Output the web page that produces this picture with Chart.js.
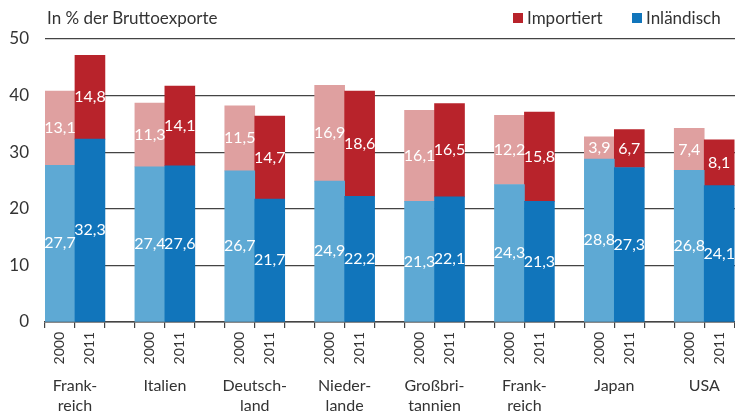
<!DOCTYPE html>
<html>
<head>
<meta charset="utf-8">
<script src="https://cdn.jsdelivr.net/npm/chart.js@4"></script>
<style>
  html, body { margin: 0; padding: 0; background: #fff; overflow: hidden; }
  #wrap { position: relative; width: 770px; height: 412px; }
  .txt { position: absolute; font-family: Lato, sans-serif; font-size: 17px; color: #333; white-space: nowrap; }
  .sw { position: absolute; width: 10px; height: 10px; }
</style>
</head>
<body>
<div id="wrap">
  <canvas id="chart" width="770" height="412"></canvas>
  <div class="txt" style="left:47px; top:7px;">In % der Bruttoexporte</div>
  <div class="sw" style="left:513px; top:13px; background:#b8232b;"></div>
  <div class="txt" style="left:527px; top:7px;">Importiert</div>
  <div class="sw" style="left:632px; top:13px; background:#1175bb;"></div>
  <div class="txt" style="left:646px; top:7px;">Inländisch</div>
</div>
<script>
const countries = [['Frank-', 'reich'], ['Italien'], ['Deutsch-', 'land'], ['Nieder-', 'lande'],
                   ['Großbri-', 'tannien'], ['Frank-', 'reich'], ['Japan'], ['USA']];
const years = ['2000', '2011'];
const inland2000 = [27.7, 27.4, 26.7, 24.9, 21.3, 24.3, 28.8, 26.8];
const inland2011 = [32.3, 27.6, 21.7, 22.2, 22.1, 21.3, 27.3, 24.1];
const import2000 = [13.1, 11.3, 11.5, 16.9, 16.1, 12.2, 3.9, 7.4];
const import2011 = [14.8, 14.1, 14.7, 18.6, 16.5, 15.8, 6.7, 8.1];
const yTicks = [0, 10, 20, 30, 40, 50];

const FONT = 'Lato, sans-serif';
const colors = {
  inland: ['#5ea9d4', '#1175bb'],
  import: ['#dfa0a0', '#b8232b']
};

// 3 slots per country: 2000, 2011, gap
var labels = [], inlandData = [], importData = [], inlandCol = [], importCol = [];
for (let i = 0; i < countries.length; i++) {
  labels.push(years[0], years[1], '');
  inlandData.push(inland2000[i], inland2011[i], null);
  importData.push(import2000[i], import2011[i], null);
  inlandCol.push(colors.inland[0], colors.inland[1], 'transparent');
  importCol.push(colors.import[0], colors.import[1], 'transparent');
}

const valueLabels = {
  id: 'valueLabels',
  afterDatasetsDraw(chart) {
    const ctx = chart.ctx;
    ctx.save();
    ctx.font = '16px ' + FONT;
    ctx.fillStyle = '#fff';
    ctx.textAlign = 'center';
    ctx.textBaseline = 'middle';
    chart.data.datasets.forEach(function(ds, d) {
      chart.getDatasetMeta(d).data.forEach(function(el, j) {
        const v = ds.data[j];
        if (v == null) return;
        const p = el.getProps(['x', 'y', 'base'], true);
        ctx.fillText(v.toFixed(1).replace('.', ','), p.x, (p.y + p.base) / 2);
      });
    });
    ctx.restore();
  }
};

const countryLabels = {
  id: 'countryLabels',
  afterDraw(chart) {
    const ctx = chart.ctx;
    const xs = chart.scales.x;
    ctx.save();
    ctx.font = '16px ' + FONT;
    ctx.fillStyle = '#333';
    ctx.textAlign = 'center';
    ctx.textBaseline = 'middle';
    countries.forEach(function(lines, i) {
      const x = (xs.getPixelForValue(3 * i) + xs.getPixelForValue(3 * i + 1)) / 2;
      lines.forEach(function(t, k) {
        ctx.fillText(t, x, 386 + k * 20);
      });
    });
    ctx.restore();
  }
};

new Chart(document.getElementById('chart'), {
  type: 'bar',
  data: {
    labels: labels,
    datasets: [
      { label: 'Inländisch', data: inlandData, backgroundColor: inlandCol, borderWidth: 0 },
      { label: 'Importiert', data: importData, backgroundColor: importCol, borderWidth: 0 }
    ]
  },
  options: {
    responsive: false,
    animation: false,
    maintainAspectRatio: false,
    barPercentage: 1,
    categoryPercentage: 1,
    layout: { padding: { top: 39, right: 2, left: 0, bottom: 0 } },
    plugins: { legend: { display: false }, tooltip: { enabled: false } },
    scales: {
      x: {
        stacked: true,
        afterFit: function(s) { s.height = 90; },
        grid: { drawOnChartArea: false, drawTicks: true, tickLength: 6, color: '#444', lineWidth: 1.2 },
        border: { display: true, color: '#444', width: 1.5 },
        ticks: {
          autoSkip: false, minRotation: 90, maxRotation: 90, padding: 4,
          color: '#333', font: { family: FONT, size: 14 }
        }
      },
      y: {
        stacked: true,
        min: 0, max: 50,
        afterFit: function(s) { s.width = 45; },
        afterBuildTicks: function(s) { s.ticks = yTicks.map(function(v) { return { value: v }; }); },
        grid: { drawTicks: false, color: '#444', lineWidth: 1.2 },
        border: { display: false },
        ticks: { padding: 16, color: '#333', font: { family: FONT, size: 17 } }
      }
    }
  },
  plugins: [valueLabels, countryLabels]
});
</script>
</body>
</html>
